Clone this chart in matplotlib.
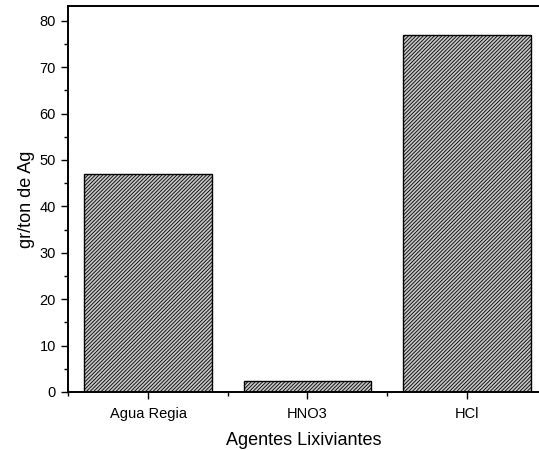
import numpy as np
from matplotlib import pyplot as plt
from matplotlib.ticker import MultipleLocator, FixedLocator

plt.rcParams['font.family'] = ['Liberation Sans', 'DejaVu Sans']
plt.rcParams['hatch.linewidth'] = 0.6
plt.rcParams['hatch.color'] = '#1a1a1a'

agentes = ["Agua Regia", "HNO3", "HCl"]
gr_ton = [47, 2.3, 77]


def plot_bars():
    fig = plt.figure(figsize=(5.39, 4.5), dpi=100)
    ax = fig.add_axes([0.127, 0.129, 0.873, 0.8578])
    pos = np.arange(1, len(agentes) + 1)
    ax.bar(pos, gr_ton, width=0.8, facecolor='#c4c4c4', edgecolor='black',
           linewidth=1.0, hatch='/////////')

    ax.set_xlim(0.5, 3.453)
    ax.set_ylim(0, 83.2)
    ax.set_xticks(pos)
    ax.set_xticklabels(agentes, fontsize=10.5)
    ax.xaxis.set_minor_locator(FixedLocator([0.5, 1.5, 2.5, 3.5]))
    ax.yaxis.set_major_locator(MultipleLocator(10))
    ax.yaxis.set_minor_locator(MultipleLocator(5))
    ax.tick_params(axis='both', which='major', direction='out', length=5,
                   width=1.0, labelsize=10.5, pad=4)
    ax.tick_params(axis='both', which='minor', direction='out', length=3,
                   width=1.0)
    ax.tick_params(axis='x', which='major', pad=6)
    for s in ['left', 'bottom', 'top']:
        ax.spines[s].set_linewidth(1.4)
    ax.spines['right'].set_visible(False)

    ax.set_xlabel("Agentes Lixiviantes", fontsize=13, labelpad=8)
    ax.set_ylabel("gr/ton de Ag", fontsize=13, labelpad=3)
    plt.savefig('out.png', dpi=100)


if __name__ == "__main__":
    plot_bars()
